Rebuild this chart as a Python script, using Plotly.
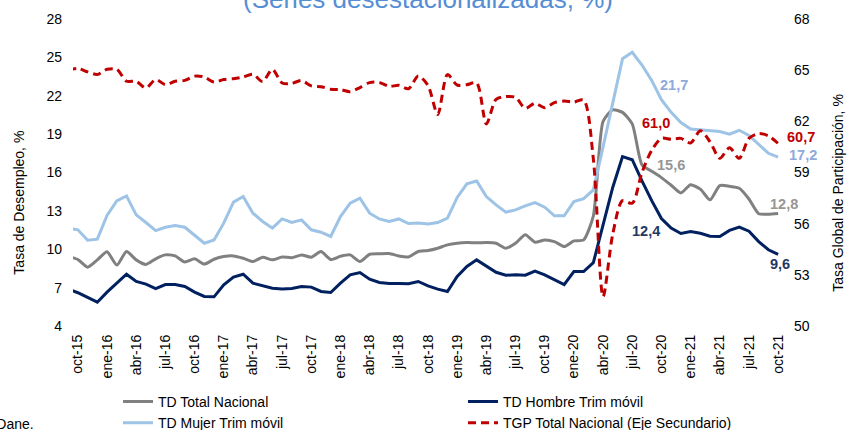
import plotly.graph_objects as go

# ---------------- data ----------------
fechas = [
    "sep-15", "oct-15", "nov-15", "dic-15",
    "ene-16", "feb-16", "mar-16", "abr-16", "may-16", "jun-16", "jul-16", "ago-16", "sep-16", "oct-16", "nov-16", "dic-16",
    "ene-17", "feb-17", "mar-17", "abr-17", "may-17", "jun-17", "jul-17", "ago-17", "sep-17", "oct-17", "nov-17", "dic-17",
    "ene-18", "feb-18", "mar-18", "abr-18", "may-18", "jun-18", "jul-18", "ago-18", "sep-18", "oct-18", "nov-18", "dic-18",
    "ene-19", "feb-19", "mar-19", "abr-19", "may-19", "jun-19", "jul-19", "ago-19", "sep-19", "oct-19", "nov-19", "dic-19",
    "ene-20", "feb-20", "mar-20", "abr-20", "may-20", "jun-20", "jul-20", "ago-20", "sep-20", "oct-20", "nov-20", "dic-20",
    "ene-21", "feb-21", "mar-21", "abr-21", "may-21", "jun-21", "jul-21", "ago-21", "sep-21", "oct-21",
]

td_total = [9.45, 9.2, 8.6, 9.17, 9.8, 8.76, 9.82, 9.17, 8.81, 9.25,
            9.56, 9.48, 9.0, 9.25, 8.84, 9.22, 9.43, 9.48, 9.30, 9.04,
            9.38, 9.17, 9.40, 9.34, 9.56, 9.38, 9.82, 9.20, 9.45, 9.56,
            9.04, 9.61, 9.65, 9.67, 9.48, 9.40, 9.82, 9.90, 10.08, 10.34,
            10.47, 10.52, 10.50, 10.52, 10.47, 10.08, 10.47, 11.13, 10.55, 10.73,
            10.60, 10.21, 10.65, 10.73, 12.6, 20.0, 20.9, 20.7, 19.8, 16.6,
            16.1, 15.6, 15.0, 14.4, 15.05, 14.7, 13.86, 14.98, 14.92, 14.77,
            13.93, 12.78, 12.74, 12.8]

td_hombre = [6.9, 6.6, 6.23, 5.86, 6.65, 7.35, 8.05, 7.48, 7.27, 6.93,
             7.24, 7.24, 7.09, 6.65, 6.31, 6.28, 7.22, 7.82, 8.05, 7.35,
             7.17, 6.96, 6.90, 6.93, 7.09, 7.04, 6.70, 6.62, 7.35, 8.0,
             8.18, 7.66, 7.40, 7.32, 7.32, 7.30, 7.48, 7.14, 6.88, 6.70,
             7.87, 8.65, 9.17, 8.65, 8.20, 7.97, 8.00, 7.97, 8.30, 8.00,
             7.63, 7.24, 8.26, 8.26, 8.95, 12.0, 14.85, 17.24, 17.0, 15.35,
             13.8, 12.4, 11.65, 11.23, 11.38, 11.25, 11.02, 11.0, 11.47, 11.73,
             11.41, 10.6, 9.96, 9.6]

td_mujer = [11.65, 11.52, 10.71, 10.79, 12.64, 13.78, 14.17, 12.69, 12.09, 11.46,
            11.72, 11.85, 11.72, 11.13, 10.47, 10.73, 12.04, 13.68, 14.12, 12.82,
            12.17, 11.65, 12.37, 12.09, 12.30, 11.52, 11.33, 11.00, 12.56, 13.60,
            13.99, 12.82, 12.37, 12.17, 12.37, 12.01, 12.06, 11.98, 12.09, 12.43,
            14.05, 15.11, 15.34, 14.12, 13.47, 12.90, 13.08, 13.39, 13.65, 13.29,
            12.61, 12.61, 13.73, 13.96, 14.64, 18.0, 21.4, 24.9, 25.4, 24.4,
            23.2, 21.7, 20.7, 19.9, 19.4, 19.35, 19.3, 19.2, 19.0, 19.3,
            18.9, 18.2, 17.5, 17.2]

tgp = [65.0, 65.1, 64.9, 64.75, 65.05, 65.05, 64.35, 64.35, 63.95, 64.45,
       64.15, 64.35, 64.4, 64.65, 64.6, 64.3, 64.45, 64.5, 64.6, 64.76,
       64.33, 65.05, 64.25, 64.23, 64.39, 64.08, 64.03, 63.88, 63.86, 63.74,
       63.98, 64.27, 64.28, 64.05, 64.11, 63.91, 64.66, 64.1, 62.4, 64.74,
       64.13, 64.15, 64.25, 61.85, 63.29, 63.45, 63.41, 62.76, 63.06, 62.80,
       63.10, 63.19, 63.13, 63.25, 59.8, 51.72, 55.4, 57.35, 57.2, 59.0,
       60.3, 61.0, 60.95, 61.0, 60.73, 61.45, 60.8, 59.83, 60.45, 59.83,
       61.0, 61.28, 61.15, 60.7]

x_ticks = ["oct-15", "ene-16", "abr-16", "jul-16", "oct-16", "ene-17", "abr-17", "jul-17",
           "oct-17", "ene-18", "abr-18", "jul-18", "oct-18", "ene-19", "abr-19", "jul-19",
           "oct-19", "ene-20", "abr-20", "jul-20", "oct-20", "ene-21", "abr-21", "jul-21", "oct-21"]
y1_ticks = [4, 7, 10, 13, 16, 19, 22, 25, 28]
y2_ticks = [50, 53, 56, 59, 62, 65, 68]

# ---------------- styles ----------------
FONT = "Liberation Sans, Arial, sans-serif"
C_TOTAL = "#808080"
C_HOMBRE = "#002060"
C_MUJER = "#9DC3E6"
C_TGP = "#C00000"

fig = go.Figure()
fig.add_trace(go.Scatter(x=fechas, y=td_total, name="TD Total Nacional", mode="lines",
                         line=dict(color=C_TOTAL, width=3, shape="spline", smoothing=0.6)))
fig.add_trace(go.Scatter(x=fechas, y=td_hombre, name="TD Hombre Trim móvil", mode="lines",
                         line=dict(color=C_HOMBRE, width=3)))
fig.add_trace(go.Scatter(x=fechas, y=td_mujer, name="TD Mujer Trim móvil", mode="lines",
                         line=dict(color=C_MUJER, width=3)))
fig.add_trace(go.Scatter(x=fechas, y=tgp, name="TGP Total Nacional (Eje Secundario)", mode="lines",
                         yaxis="y2",
                         line=dict(color=C_TGP, width=3, dash="8px,5px", shape="spline", smoothing=0.8)))

# data labels (text taken from the data)
def fmt(v):
    return f"{v:.1f}".replace(".", ",")

label_specs = [
    (td_mujer, 61, "y", "#8EA9DB", 12.6, 15),
    (tgp, 61, "y2", C_TGP, -5.4, 15.4),
    (td_total, 61, "y", "#969696", 9.6, 12.6),
    (td_hombre, 61, "y", "#1F3864", -15.4, -12),
    (td_total, 73, "y", "#969696", 6, 9),
    (td_hombre, 73, "y", "#1F3864", 1.4, -9.6),
    (tgp, 73, "y2", C_TGP, 23, 6.5),
    (td_mujer, 73, "y", "#8EA9DB", 25, 2),
]
annotations = []
for serie, idx, yref, col, dx, dy in label_specs:
    annotations.append(dict(x=fechas[idx], y=serie[idx], xref="x", yref=yref,
                            text=f"<b>{fmt(serie[idx])}</b>", showarrow=False,
                            xanchor="center", yanchor="middle", xshift=dx, yshift=dy,
                            font=dict(family=FONT, size=14.5, color=col)))

annotations += [
    dict(text="(Series desestacionalizadas, %)", x=0.4993, y=1.0098, xref="paper", yref="paper",
         xanchor="center", yanchor="bottom", showarrow=False,
         font=dict(family=FONT, size=26, color="#558ED5")),
    dict(text="Tasa de Desempleo, %", x=-0.076, y=0.402, xref="paper", yref="paper",
         textangle=-90, showarrow=False, xanchor="center", yanchor="middle",
         font=dict(family=FONT, size=14, color="#000000")),
    dict(text="Tasa Global de Participación, %", x=1.078, y=0.435, xref="paper", yref="paper",
         textangle=-90, showarrow=False, xanchor="center", yanchor="middle",
         font=dict(family=FONT, size=14, color="#000000")),
    dict(text="Fuente: Dane.", x=-0.0521, y=-0.319, xref="paper", yref="paper",
         showarrow=False, xanchor="right", yanchor="middle",
         font=dict(family=FONT, size=14, color="#000000")),
]

fig.update_layout(
    width=852, height=430,
    margin=dict(l=73, r=69, t=19, b=104, autoexpand=False),
    paper_bgcolor="white", plot_bgcolor="white",
    font=dict(family=FONT, size=14, color="#000000"),
    xaxis=dict(type="category", categoryorder="array", categoryarray=fechas,
               range=[0.5, len(fechas) - 0.5], tickmode="array", tickvals=x_ticks, ticktext=x_ticks,
               tickangle=-90, showgrid=False, zeroline=False, showline=False, ticks="",
               ticklabelstandoff=5, tickfont=dict(size=14)),
    yaxis=dict(range=[4, 28], tickmode="array", tickvals=y1_ticks, showgrid=False, zeroline=False,
               showline=False, ticks="", ticklabelstandoff=10, tickfont=dict(size=14)),
    yaxis2=dict(range=[50, 68], tickmode="array", tickvals=y2_ticks, overlaying="y", side="right",
                showgrid=False, zeroline=False, showline=False, ticks="", ticklabelstandoff=10,
                tickfont=dict(size=14)),
    legend=dict(orientation="h", x=0.0634, xanchor="left", y=-0.195, yanchor="top",
                entrywidth=300, entrywidthmode="pixels", font=dict(family=FONT, size=14),
                bgcolor="rgba(0,0,0,0)", traceorder="normal", itemwidth=30),
    showlegend=True,
    annotations=annotations,
)

fig.write_html("out.html", config={"displayModeBar": False},
               post_script="document.body.style.margin='0';document.body.style.padding='0';")
